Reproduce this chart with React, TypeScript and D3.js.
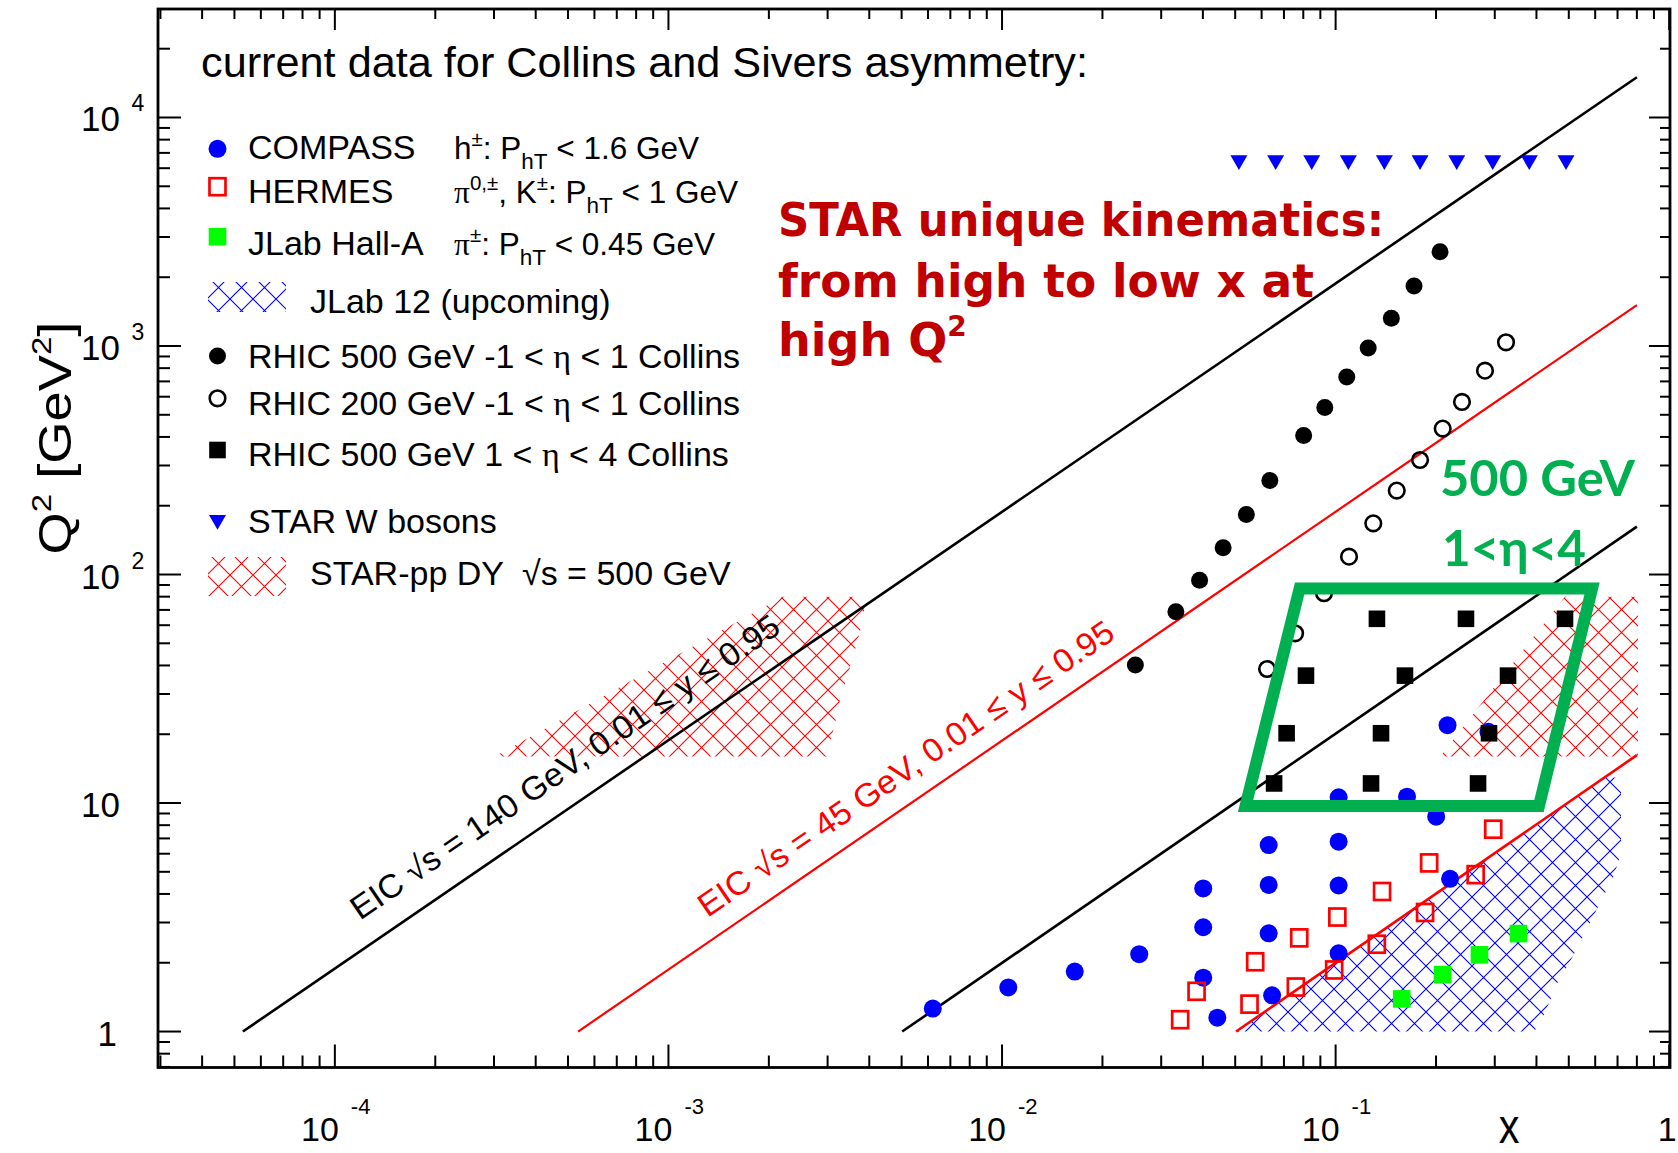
import React from 'react';
import * as d3 from 'd3';

// ---------------- data (x, Q^2) ----------------
const compassPts: [number, number][] = [
  [0.0062, 1.26], [0.01044, 1.56], [0.01652, 1.83], [0.02578, 2.18],
  [0.0401, 4.23], [0.0401, 2.86], [0.0401, 1.72], [0.0442, 1.15],
  [0.063, 6.55], [0.063, 4.38], [0.063, 2.69], [0.0645, 1.44],
  [0.1021, 10.6], [0.1021, 6.77], [0.1021, 4.36], [0.1021, 2.2],
  [0.1637, 10.66], [0.2002, 8.71], [0.2203, 4.66], [0.2165, 21.9], [0.2871, 20.5],
];
const hermesPts: [number, number][] = [
  [0.0342, 1.127], [0.0383, 1.5], [0.0552, 1.318], [0.0574, 2.02], [0.076, 1.566],
  [0.0778, 2.57], [0.099, 1.86], [0.1012, 3.17], [0.1329, 2.41], [0.1378, 4.1],
  [0.1854, 3.32], [0.1907, 5.47], [0.2629, 4.86], [0.2968, 7.68],
];
const jlabHallAPts: [number, number][] = [
  [0.1578, 1.389], [0.2092, 1.776], [0.2699, 2.166], [0.3534, 2.683],
];
const rhic500MidPts: [number, number][] = [
  [0.2056, 2586], [0.1718, 1830], [0.1469, 1323], [0.1252, 981], [0.108, 732],
  [0.0928, 538], [0.0802, 406], [0.0635, 258], [0.054, 183], [0.046, 131],
  [0.0391, 94.3], [0.0332, 68.7], [0.0251, 40.2],
];
const rhic200MidPts: [number, number][] = [
  [0.3242, 1038], [0.2804, 780], [0.2392, 569], [0.2094, 435], [0.1791, 317],
  [0.1525, 233], [0.1297, 167.5], [0.1097, 119.7], [0.0923, 82.8], [0.0756, 55.3], [0.0623, 38.6],
];
const rhic500FwdPts: [number, number][] = [
  [0.133, 64], [0.2459, 64], [0.4871, 64],
  [0.0815, 36.1], [0.1614, 36.1], [0.3287, 36.1],
  [0.0713, 20.2], [0.1368, 20.2], [0.2883, 20.2],
  [0.0654, 12.18], [0.1277, 12.18], [0.2673, 12.18],
];
const starWx = [0.0513, 0.0661, 0.0848, 0.1092, 0.14, 0.1791, 0.2307, 0.2958, 0.3807, 0.4905];
const starWQ2 = 6500;

// EIC kinematic limits (endpoints)
const eic140Upper: [number, number][] = [[5.3e-5, 1], [0.8, 15000]];
const eic140Lower: [number, number][] = [[5.02e-3, 1], [0.8, 162]];
const eic45Upper: [number, number][] = [[5.36e-4, 1], [0.8, 1511]];
const eic45Lower: [number, number][] = [[0.0503, 1], [0.8, 16.2]];

// shaded regions
const jlab12Region: [number, number][] = [
  [0.0503, 1], [0.64, 12.96], [0.717, 12.9], [0.717, 6.04], [0.681, 4.76], [0.612, 3.52],
  [0.561, 2.73], [0.514, 2.13], [0.462, 1.63], [0.423, 1.2], [0.394, 1],
];
const dyRegionLow: [number, number][] = [
  [3.02e-4, 16], [2.2e-3, 80], [3.93e-3, 80], [3.75e-3, 56.2], [3.575e-3, 43.7],
  [3.423e-3, 35.2], [3.268e-3, 28.2], [3.158e-3, 22.4], [3.05e-3, 18.2], [3.05e-3, 16],
];
const dyRegionHigh: [number, number][] = [[0.2056, 16], [0.487, 80], [0.806, 80], [0.806, 16]];
const greenBox: [number, number][] = [[0.078, 86.8], [0.587, 86.8], [0.407, 9.7], [0.0537, 9.7]];

// axis labels
const xTickExps = [-4, -3, -2, -1];
const yTickExps = [2, 3, 4];
const xDomain: [number, number] = [2.95e-5, 1.0055];
const yDomain: [number, number] = [0.696, 29840];

const starLines = ['STAR unique kinematics:', 'from high to low x at'];
const eicLabel140 = 'EIC \u221As = 140 GeV, 0.01 \u2264 y \u2264 0.95';
const eicLabel45 = 'EIC \u221As = 45 GeV, 0.01 \u2264 y \u2264 0.95';
const eicLabel140Pos: [number, number] = [1.19e-4, 3.05];
const eicLabel45Pos: [number, number] = [1.31e-3, 3.14];

// ---------------- layout ----------------
const W = 1678, H = 1153;
const PL = 158, PR = 1670, PT = 9, PB = 1067.5;
const SANS = "'Liberation Sans', Arial, Helvetica, sans-serif";
const SERIF = "'Liberation Serif', 'DejaVu Serif', serif";
const BLUE = '#0000ff', RED = '#ff0000', GREEN = '#00ff00', DGREEN = '#00b050', DRED = '#c00000';

export default function App() {
  const x = d3.scaleLog().domain(xDomain).range([PL, PR]);
  const y = d3.scaleLog().domain(yDomain).range([PB, PT]);
  const line = d3.line<[number, number]>().x(d => x(d[0])).y(d => y(d[1]));
  const poly = (p: [number, number][]) => (line(p) || '') + 'Z';
  const ang = Math.atan2(y(10) - y(1), x(10) - x(1)) * 180 / Math.PI;

  const isMajor = (v: number) => Math.abs(Math.log10(v) - Math.round(Math.log10(v))) < 1e-6;
  const xt = x.ticks().filter(v => x(v) >= PL - 0.5 && x(v) <= PR + 0.5);
  const yt = y.ticks().filter(v => y(v) <= PB + 0.5 && y(v) >= PT - 0.5);
  const tri = d3.symbol().type(d3.symbolTriangle).size(125)() || '';

  const fs = 34;     // legend first column
  const fs2 = 31.5;  // legend second column
  const sup = 20.5, sub = 22.5;

  return (
    <div style={{ position: 'absolute', left: 0, top: 0, width: W, height: H, background: '#fff' }}>
      <svg width={W} height={H} style={{ display: 'block' }} fontFamily={SANS}>
        <defs>
          <pattern id="hBlue" patternUnits="userSpaceOnUse" width={23} height={23}>
            <path d="M0,0L23,23M23,0L0,23" stroke={BLUE} strokeWidth={1.1} />
          </pattern>
          <pattern id="hRed" patternUnits="userSpaceOnUse" width={23} height={23}>
            <path d="M0,0L23,23M23,0L0,23" stroke={RED} strokeWidth={1.1} />
          </pattern>
          <clipPath id="plotClip"><rect x={PL} y={PT} width={PR - PL} height={PB - PT} /></clipPath>
        </defs>
        <rect x={0} y={0} width={W} height={H} fill="#fff" />

        {/* hatched regions */}
        <g clipPath="url(#plotClip)">
          <path d={poly(jlab12Region)} fill="url(#hBlue)" />
          <path d={poly(dyRegionLow)} fill="url(#hRed)" />
          <path d={poly(dyRegionHigh)} fill="url(#hRed)" />
        </g>

        {/* EIC lines */}
        <path d={line(eic140Upper) || ''} stroke="#000" strokeWidth={2.6} fill="none" />
        <path d={line(eic140Lower) || ''} stroke="#000" strokeWidth={2.6} fill="none" />
        <path d={line(eic45Upper) || ''} stroke={RED} strokeWidth={2.2} fill="none" />
        <path d={line(eic45Lower) || ''} stroke={RED} strokeWidth={2.6} fill="none" />

        <text transform={`translate(${x(eicLabel140Pos[0])},${y(eicLabel140Pos[1])}) rotate(${ang})`}
          fontSize={33} textLength={512} lengthAdjust="spacingAndGlyphs" fill="#000">{eicLabel140}</text>
        <text transform={`translate(${x(eicLabel45Pos[0])},${y(eicLabel45Pos[1])}) rotate(${ang})`}
          fontSize={33} textLength={496} lengthAdjust="spacingAndGlyphs" fill={RED}>{eicLabel45}</text>

        {/* data points */}
        {compassPts.map((d, i) => <circle key={'c' + i} cx={x(d[0])} cy={y(d[1])} r={9} fill={BLUE} />)}
        {hermesPts.map((d, i) => <rect key={'h' + i} x={x(d[0]) - 8} y={y(d[1]) - 8.5} width={16} height={17} fill="none" stroke={RED} strokeWidth={2.7} />)}
        {jlabHallAPts.map((d, i) => <rect key={'j' + i} x={x(d[0]) - 8.8} y={y(d[1]) - 8.8} width={17.6} height={17.6} fill={GREEN} />)}
        {rhic500MidPts.map((d, i) => <circle key={'r5' + i} cx={x(d[0])} cy={y(d[1])} r={8.5} fill="#000" />)}
        {rhic200MidPts.map((d, i) => <circle key={'r2' + i} cx={x(d[0])} cy={y(d[1])} r={7.8} fill="none" stroke="#000" strokeWidth={2.6} />)}
        {rhic500FwdPts.map((d, i) => <rect key={'rf' + i} x={x(d[0]) - 8.3} y={y(d[1]) - 8.3} width={16.6} height={16.6} fill="#000" />)}
        {starWx.map((v, i) => <path key={'w' + i} d={tri} transform={`translate(${x(v)},${y(starWQ2)}) rotate(180)`} fill={BLUE} />)}

        {/* green box */}
        <path d={poly(greenBox)} fill="none" stroke={DGREEN} strokeWidth={12} strokeLinejoin="miter" />
        <text x={1440} y={496} fontFamily="Lato, 'Open Sans', sans-serif" fontWeight={700} fontSize={50} fill={DGREEN}
          textLength={195} lengthAdjust="spacingAndGlyphs">500 GeV</text>
        <text x={1442} y={566} fontFamily="Lato, 'Open Sans', sans-serif" fontWeight={700} fontSize={50} fill={DGREEN}
          textLength={144} lengthAdjust="spacingAndGlyphs">1&lt;η&lt;4</text>

        {/* STAR red text */}
        <g fontFamily="'DejaVu Sans', sans-serif" fontWeight={700} fill={DRED} fontSize={46}>
          <text x={778} y={235.5} textLength={606} lengthAdjust="spacingAndGlyphs">{starLines[0]}</text>
          <text x={778} y={297} textLength={536} lengthAdjust="spacingAndGlyphs">{starLines[1]}</text>
          <text x={778} y={356}>high Q<tspan fontSize={28} dy={-20}>2</tspan></text>
        </g>

        {/* title */}
        <text x={201} y={77} fontSize={43} textLength={887} lengthAdjust="spacingAndGlyphs">current data for Collins and Sivers asymmetry:</text>

        {/* legend */}
        <g fontSize={fs}>
          <circle cx={217.5} cy={148.8} r={9} fill={BLUE} />
          <text x={248} y={159.3}>COMPASS</text>
          <text x={454} y={159.3} fontSize={fs2}>h<tspan fontSize={sup} dy={-13}>±</tspan><tspan dy={13}>: P</tspan><tspan fontSize={sub} dy={10}>hT</tspan><tspan dy={-10}> &lt; 1.6 GeV</tspan></text>

          <rect x={209.5} y={178.2} width={16} height={17} fill="none" stroke={RED} strokeWidth={2.7} />
          <text x={248} y={202.7}>HERMES</text>
          <text x={454} y={202.7} fontSize={fs2}><tspan fontFamily={SERIF}>π</tspan><tspan fontSize={sup} dy={-13}>0,±</tspan><tspan dy={13}>, K</tspan><tspan fontSize={sup} dy={-13}>±</tspan><tspan dy={13}>: P</tspan><tspan fontSize={sub} dy={10}>hT</tspan><tspan dy={-10}> &lt; 1 GeV</tspan></text>

          <rect x={208.7} y={227.9} width={17.6} height={17.6} fill={GREEN} />
          <text x={248} y={255}>JLab Hall-A</text>
          <text x={454} y={255} fontSize={fs2}><tspan fontFamily={SERIF}>π</tspan><tspan fontSize={sup} dy={-13}>±</tspan><tspan dy={13}>: P</tspan><tspan fontSize={sub} dy={10}>hT</tspan><tspan dy={-10}> &lt; 0.45 GeV</tspan></text>

          <rect x={208} y={282} width={78} height={30} fill="url(#hBlue)" />
          <text x={310} y={313}>JLab 12 (upcoming)</text>

          <circle cx={217.5} cy={356} r={8.5} fill="#000" />
          <text x={248} y={368.3}>RHIC 500 GeV -1 &lt; <tspan fontFamily={SERIF}>η</tspan> &lt; 1 Collins</text>

          <circle cx={217.5} cy={398.3} r={7.8} fill="none" stroke="#000" strokeWidth={2.6} />
          <text x={248} y={415}>RHIC 200 GeV -1 &lt; <tspan fontFamily={SERIF}>η</tspan> &lt; 1 Collins</text>

          <rect x={209.2} y={441.7} width={16.6} height={16.6} fill="#000" />
          <text x={248} y={465.7}>RHIC 500 GeV 1 &lt; <tspan fontFamily={SERIF}>η</tspan> &lt; 4 Collins</text>

          <path d={tri} transform="translate(217.5,520) rotate(180)" fill={BLUE} />
          <text x={248} y={533.3}>STAR W bosons</text>

          <rect x={208} y={557} width={78} height={39} fill="url(#hRed)" />
          <text x={310} y={585}>STAR-pp DY<tspan dx={18}>√s = 500 GeV</tspan></text>
        </g>

        {/* ticks */}
        <g stroke="#000" strokeWidth={2}>
          {xt.map((v, i) => {
            const L = isMajor(v) ? 23 : 12;
            const px = x(v);
            return <g key={'xt' + i}>
              <line x1={px} x2={px} y1={PB} y2={PB - L} />
              <line x1={px} x2={px} y1={PT} y2={PT + L - 2} />
            </g>;
          })}
          {yt.map((v, i) => {
            const L = isMajor(v) ? 23 : 12;
            const py = y(v);
            return <g key={'yt' + i}>
              <line x1={PL} x2={PL + L} y1={py} y2={py} />
              <line x1={PR} x2={PR - L + 2} y1={py} y2={py} />
            </g>;
          })}
        </g>
        <rect x={PL} y={PT} width={PR - PL} height={PB - PT} fill="none" stroke="#000" strokeWidth={2.8} />

        {/* x tick labels */}
        <g fontSize={34}>
          {xTickExps.map(e => (
            <g key={'xl' + e}>
              <text x={x(Math.pow(10, e)) + 4} y={1140.7} textAnchor="end">10</text>
              <text x={x(Math.pow(10, e)) + 16} y={1114.3} fontSize={22}>{e < 0 ? '-' + Math.abs(e) : e}</text>
            </g>
          ))}
          <text x={x(1) - 2} y={1140.7} textAnchor="middle">1</text>
        </g>
        <text transform="translate(1509,1143) scale(0.9,1.05)" fontSize={46} textAnchor="middle">x</text>

        {/* y tick labels */}
        <g fontSize={35}>
          {yTickExps.map(e => (
            <g key={'yl' + e}>
              <text x={120} y={y(Math.pow(10, e)) + 14} textAnchor="end">10</text>
              <text x={131.5} y={y(Math.pow(10, e)) - 6} fontSize={23}>{e}</text>
            </g>
          ))}
          <text x={120} y={y(10) + 14} textAnchor="end">10</text>
          <text x={117} y={y(1) + 14} textAnchor="end">1</text>
        </g>
        <text transform="translate(71,438) rotate(-90) scale(1.18,1)" fontSize={46} textAnchor="middle">
          Q<tspan fontSize={28} dy={-20}>2</tspan><tspan dy={20}> [GeV</tspan><tspan fontSize={28} dy={-20}>2</tspan><tspan dy={20}>]</tspan>
        </text>
      </svg>
    </div>
  );
}
